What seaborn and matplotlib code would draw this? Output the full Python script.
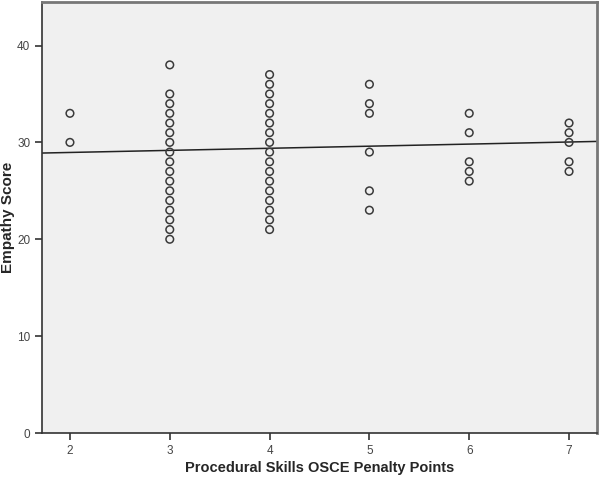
import pandas as pd
import matplotlib.pyplot as plt
import seaborn as sns

# penalty points (x) and empathy scores (y)
pts_2 = [33, 30]
pts_3 = [38, 35, 34, 33, 32, 31, 30, 29, 28, 27, 26, 25, 24, 23, 22, 21, 20]
pts_4 = [37, 36, 35, 34, 33, 32, 31, 30, 29, 28, 27, 26, 25, 24, 23, 22, 21]
pts_5 = [36, 34, 33, 29, 25, 23]
pts_6 = [33, 31, 28, 27, 26]
pts_7 = [32, 31, 30, 28, 27]

# fit line (linear, as drawn in the original)
fit_x = [1.72, 7.28]
fit_y = [28.9, 30.1]

x_ticks = [2, 3, 4, 5, 6, 7]
y_ticks = [0, 10, 20, 30, 40]

groups = {2: pts_2, 3: pts_3, 4: pts_4, 5: pts_5, 6: pts_6, 7: pts_7}
df = pd.DataFrame(
    [(k, v) for k, vals in groups.items() for v in vals],
    columns=["penalty", "empathy"],
)
fit = pd.DataFrame({"x": fit_x, "y": fit_y})

sns.set_style("white")
plt.rcParams["font.family"] = ["Liberation Sans", "DejaVu Sans"]

fig = plt.figure(figsize=(6, 4.79), dpi=100)
ax = fig.add_axes([0.07, 0.096, 0.925, 0.9])
ax.set_facecolor("#f0f0f0")

sns.scatterplot(
    data=df, x="penalty", y="empathy", ax=ax,
    marker="o", s=30, facecolors="none", edgecolor="#3a3a3a",
    linewidth=1.1, zorder=3,
)
sns.lineplot(data=fit, x="x", y="y", ax=ax, color="#222222", lw=1.1, zorder=2)

ax.set_xlim(1.72, 7.28)
ax.set_ylim(0, 44.5)
ax.set_xticks(x_ticks)
ax.set_yticks(y_ticks)

for side in ["left", "bottom"]:
    ax.spines[side].set_color("#333333")
    ax.spines[side].set_linewidth(1.2)
for side in ["top", "right"]:
    ax.spines[side].set_color("#777777")
    ax.spines[side].set_linewidth(2.0)

ax.tick_params(axis="both", direction="out", length=5, width=1.2,
               color="#333333", labelcolor="#444444", labelsize=8.5,
               bottom=True, left=True)

ax.set_xlabel("Procedural Skills OSCE Penalty Points",
              fontsize=10.5, fontweight="bold")
ax.set_ylabel("Empathy Score", fontsize=11, fontweight="bold")
ax.xaxis.set_label_coords(0.5, -0.08)
ax.yaxis.set_label_coords(-0.061, 0.5)
ax.xaxis.label.set_va("center")
ax.yaxis.label.set_va("center")

fig.savefig("out.png", dpi=100, facecolor="white")
